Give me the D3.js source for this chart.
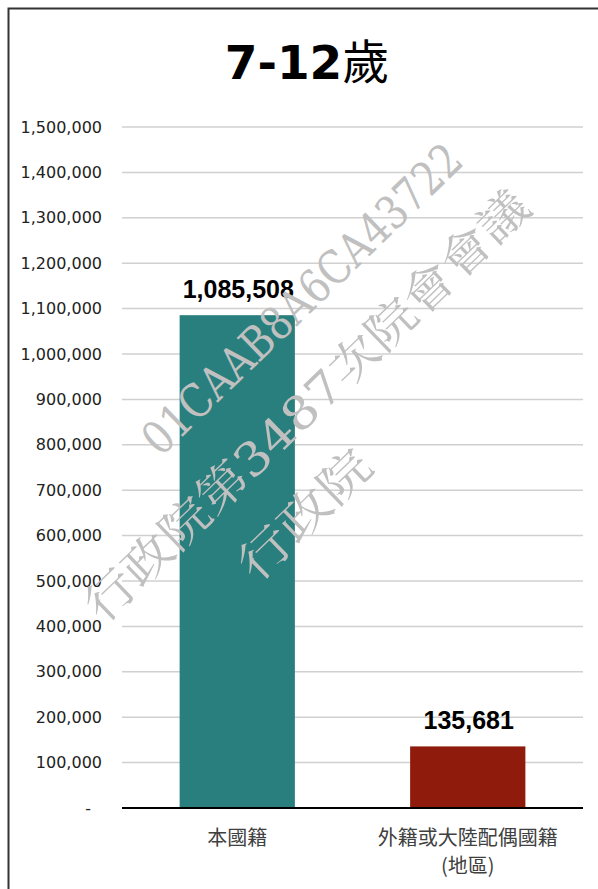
<!DOCTYPE html>
<html>
<head>
<meta charset="utf-8">
<script src="https://cdn.jsdelivr.net/npm/d3@7"></script>
<style>
  body { margin: 0; background: #fff; }
</style>
</head>
<body>
<div id="chart"></div>
<script>
// data
var categories = ["本國籍", "外籍或大陸配偶國籍\n(地區)"];
var values = [1085508, 135681];
var barColors = ["#297f7d", "#8e1b0b"];
var yTicks = [0, 100000, 200000, 300000, 400000, 500000, 600000, 700000,
              800000, 900000, 1000000, 1100000, 1200000, 1300000, 1400000, 1500000];
var watermark = ["01CAAB8A6CA43722", "行政院第3487次院會會議", "行政院"];

var width = 598, height = 889;
var margin = { top: 127, right: 15, bottom: 81, left: 122 };

var svg = d3.select("#chart")
    .append("svg")
    .attr("width", width)
    .attr("height", height);

// outer frame (runs off the right and bottom edges)
svg.append("rect")
    .attr("x", 8.5)
    .attr("y", 8.5)
    .attr("width", 700)
    .attr("height", 1000)
    .style("fill", "none")
    .style("stroke", "#333")
    .style("stroke-width", 2);

// title
var title = svg.append("text")
    .attr("x", 307)
    .attr("y", 79)
    .attr("text-anchor", "middle");
title.append("tspan")
    .style("font-family", "'DejaVu Sans', Verdana, sans-serif")
    .style("font-weight", "bold")
    .style("font-size", "47px")
    .text("7-12");
title.append("tspan")
    .style("font-family", "'Noto Sans CJK TC', sans-serif")
    .style("font-size", "47px")
    .text("歲");

var x = d3.scaleBand()
    .domain(categories)
    .range([margin.left, width - margin.right])
    .paddingInner(0.5)
    .paddingOuter(0.25);

var y = d3.scaleLinear()
    .domain([0, 1500000])
    .range([height - margin.bottom, margin.top]);

// grid lines
svg.append("g")
    .selectAll("line")
    .data(yTicks.slice(1))
    .enter()
    .append("line")
    .attr("x1", margin.left)
    .attr("x2", width - margin.right)
    .attr("y1", function(d) { return y(d); })
    .attr("y2", function(d) { return y(d); })
    .style("stroke", "#d0d0d0")
    .style("stroke-width", 1.5);

// y axis labels
var yAxis = svg.append("g")
    .attr("transform", "translate(" + (margin.left - 20) + ",0)")
    .call(d3.axisLeft(y)
        .tickValues(yTicks)
        .tickSize(0)
        .tickFormat(function(d) { return d === 0 ? "-" : d3.format(",")(d); }));
yAxis.select(".domain").remove();
yAxis.selectAll("text")
    .attr("x", 0)
    .style("font-family", "Verdana, 'DejaVu Sans', sans-serif")
    .style("font-size", "16px")
    .style("fill", "#222");
yAxis.selectAll(".tick")
    .filter(function(d) { return d === 0; })
    .select("text")
    .attr("dx", -11);

// bars
svg.append("g")
    .selectAll("rect")
    .data(values)
    .enter()
    .append("rect")
    .attr("x", function(d, i) { return x(categories[i]); })
    .attr("width", x.bandwidth())
    .attr("y", function(d) { return y(d); })
    .attr("height", function(d) { return y(0) - y(d); })
    .style("fill", function(d, i) { return barColors[i]; });

// baseline
svg.append("line")
    .attr("x1", margin.left)
    .attr("x2", width - margin.right)
    .attr("y1", y(0))
    .attr("y2", y(0))
    .style("stroke", "#000")
    .style("stroke-width", 2);

// value labels
svg.append("g")
    .selectAll("text")
    .data(values)
    .enter()
    .append("text")
    .attr("x", function(d, i) { return x(categories[i]) + x.bandwidth() / 2 + 1; })
    .attr("y", function(d) { return y(d) - 17; })
    .attr("text-anchor", "middle")
    .style("font-family", "'Liberation Sans', Arial, sans-serif")
    .style("font-weight", "bold")
    .style("font-size", "25px")
    .style("fill", "#000")
    .text(function(d) { return d3.format(",")(d); });

// category labels
var catLabels = svg.append("g")
    .selectAll("text")
    .data(categories)
    .enter()
    .append("text")
    .attr("x", function(d) { return x(d) + x.bandwidth() / 2; })
    .attr("y", y(0) + 37)
    .attr("text-anchor", "middle")
    .style("font-family", "'Noto Sans CJK TC', sans-serif")
    .style("font-size", "20px")
    .style("fill", "#404040");

catLabels.selectAll("tspan")
    .data(function(d) { return d.split("\n").map(function(t) { return { t: t, c: d }; }); })
    .enter()
    .append("tspan")
    .attr("x", function(d) { return x(d.c) + x.bandwidth() / 2; })
    .attr("dy", function(d, i) { return i === 0 ? 0 : 28; })
    .text(function(d) { return d.t; });

// watermark on top
var wmPos = [
    { cx: 302, cy: 299, len: 424 },
    { cx: 307, cy: 406, len: 597 },
    { cx: 305, cy: 515, len: 165 }
];
svg.append("g")
    .selectAll("text")
    .data(watermark)
    .enter()
    .append("text")
    .attr("transform", function(d, i) {
        return "translate(" + wmPos[i].cx + "," + wmPos[i].cy + ") rotate(-44)";
    })
    .attr("text-anchor", "middle")
    .attr("dominant-baseline", "central")
    .attr("textLength", function(d, i) { return wmPos[i].len; })
    .attr("lengthAdjust", "spacingAndGlyphs")
    .style("font-family", "'DejaVu Serif', 'Liberation Serif', 'Noto Serif CJK TC', serif")
    .style("font-size", "46px")
    .style("fill", "#c0c0c0")
    .text(function(d) { return d; });
</script>
</body>
</html>
